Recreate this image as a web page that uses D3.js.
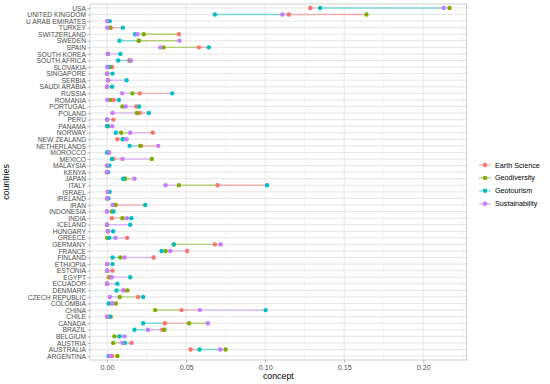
<!DOCTYPE html>
<html><head><meta charset="utf-8">
<script src="https://cdn.jsdelivr.net/npm/d3@7"></script>
<style>body{margin:0;background:#fff;} svg{display:block;font-family:"Liberation Sans",Arial,sans-serif;}</style>
</head><body>
<svg id="c" width="550" height="384"></svg>
<script>
const countries = ["USA","UNITED KINGDOM","U ARAB EMIRATES","TURKEY","SWITZERLAND","SWEDEN","SPAIN","SOUTH KOREA","SOUTH AFRICA","SLOVAKIA","SINGAPORE","SERBIA","SAUDI ARABIA","RUSSIA","ROMANIA","PORTUGAL","POLAND","PERU","PANAMA","NORWAY","NEW ZEALAND","NETHERLANDS","MOROCCO","MEXICO","MALAYSIA","KENYA","JAPAN","ITALY","ISRAEL","IRELAND","IRAN","INDONESIA","INDIA","ICELAND","HUNGARY","GREECE","GERMANY","FRANCE","FINLAND","ETHIOPIA","ESTONIA","EGYPT","ECUADOR","DENMARK","CZECH REPUBLIC","COLOMBIA","CHINA","CHILE","CANADA","BRAZIL","BELGIUM","AUSTRIA","AUSTRALIA","ARGENTINA"];
const earthScience  = [0.1285,0.115,0.001,0.0023,0.0454,0.0199,0.0581,0.0005,0.014,0.0032,0,0.0005,0,0.0207,0.0042,0.0184,0.0207,0.004,0,0.0289,0.0065,0.0215,0.001,0.0038,0,0,0.0112,0.0699,0.0012,0,0.0055,0,0.003,0,0.0005,0.0127,0.0682,0.0507,0.0294,0,0.0034,0.001,0,0.0108,0.0196,0.003,0.0471,0,0.0365,0.0349,0.0078,0.0154,0.0528,0.003];
const geodiversity  = [0.2167,0.1641,0.0005,0.0017,0.0232,0.0201,0.0357,0.0005,0.0145,0.0017,0,0.0006,0,0.016,0.0019,0.0097,0.0188,0,0.0006,0.0089,0.0099,0.021,0.001,0.0283,0,0,0.0114,0.0454,0.001,0,0.005,0.003,0.0097,0,0.0005,0,0.0423,0.037,0.0084,0,0,0.0022,0,0.0129,0.008,0.0055,0.0304,0.0023,0.0518,0.0363,0.0046,0.0038,0.075,0.0065];
const geotourism    = [0.1348,0.0682,0.0017,0.0099,0.0177,0.0078,0.0644,0.0084,0.007,0.001,0.0034,0.0123,0.0032,0.0412,0.0074,0.0203,0.0264,0,0,0.0055,0.0099,0.0142,0,0.003,0.0015,0.0006,0.0101,0.1012,0.0016,0.0008,0.0241,0.004,0.0154,0.0146,0.0038,0.0013,0.0421,0.0344,0.0034,0.0034,0,0.0146,0.0065,0.0059,0.0228,0.001,0.1003,0.0017,0.0228,0.0173,0.0078,0.0112,0.0585,0.001];
const sustainability= [0.213,0.1109,0,0,0.0192,0.0458,0.0336,0.0006,0.015,0,0,0.0006,0,0.0095,0,0.0118,0.0034,0,0.0032,0.0146,0.0123,0.0323,0.0013,0.0097,0,0,0.0173,0.037,0.0003,0,0.0034,0,0.0125,0,0.0006,0.0053,0.0718,0.0399,0.011,0,0,0.003,0,0.0101,0.0017,0.0034,0.0587,0,0.0638,0.0258,0.011,0.0097,0.0716,0.0017];
const seriesNames = ["Earth Science","Geodiversity","Geotourism","Sustainability"];
const seriesColors = ["#F8766D","#7CAE00","#00BFC4","#C77CFF"];
const xTicks = [0, 0.05, 0.10, 0.15, 0.20];

const series = [earthScience, geodiversity, geotourism, sustainability];
const svg = d3.select("#c");
const P = {l:90, r:466.7, t:4, b:360};
const maxV = d3.max(series.flat());
const x = d3.scaleLinear().domain([-maxV*0.05, maxV*1.05]).range([P.l, P.r]);
const y = d3.scalePoint().domain(countries).range([P.t, P.b]).padding(0.6);

// grid
const g = svg.append("g");
const minor = d3.range(0.025, 0.23, 0.05);
g.selectAll(".mn").data(minor).join("line").attr("x1",d=>x(d)).attr("x2",d=>x(d)).attr("y1",P.t).attr("y2",P.b).attr("stroke","#ededed").attr("stroke-width",0.5);
g.selectAll(".mj").data(xTicks).join("line").attr("x1",d=>x(d)).attr("x2",d=>x(d)).attr("y1",P.t).attr("y2",P.b).attr("stroke","#dedede").attr("stroke-width",0.8);
g.selectAll(".hy").data(countries).join("line").attr("x1",P.l).attr("x2",P.r).attr("y1",d=>y(d)).attr("y2",d=>y(d)).attr("stroke","#dedede").attr("stroke-width",0.8);

// axes
const xa = svg.append("g").attr("transform",`translate(0,${P.b})`).call(d3.axisBottom(x).tickValues(xTicks).tickFormat(d3.format(".2f")).tickSize(2.5).tickPadding(2));
const ya = svg.append("g").attr("transform",`translate(${P.l},0)`).call(d3.axisLeft(y).tickSize(2.5).tickPadding(1.5));
[xa,ya].forEach(a=>{a.select(".domain").remove();a.selectAll("line").attr("stroke","#b3b3b3");a.selectAll("text").attr("fill","#4d4d4d").attr("font-family","Liberation Sans, Arial, sans-serif");});
xa.selectAll("text").attr("font-size",7.2);
ya.selectAll("text").attr("font-size",6.7);
svg.append("rect").attr("x",P.l).attr("y",P.t).attr("width",P.r-P.l).attr("height",P.b-P.t).attr("fill","none").attr("stroke","#b3b3b3").attr("stroke-width",0.6);

// lines
const segs = [];
countries.forEach((c,i)=>{
  const pts = series.map((s,k)=>({v:s[i],k})).sort((a,b)=>a.v-b.v);
  for(let j=0;j<pts.length-1;j++) segs.push({c, a:pts[j].v, b:pts[j+1].v, k:pts[j].k});
});
svg.append("g").selectAll("line").data(segs).join("line")
  .attr("x1",d=>x(d.a)).attr("x2",d=>x(d.b)).attr("y1",d=>y(d.c)).attr("y2",d=>y(d.c))
  .attr("stroke",d=>seriesColors[d.k]).attr("stroke-opacity",0.5).attr("stroke-width",1.4);

// points
series.forEach((s,k)=>{
  svg.append("g").selectAll("circle").data(countries).join("circle")
    .attr("cx",(d,i)=>x(s[i])).attr("cy",d=>y(d)).attr("r",2.2).attr("fill",seriesColors[k]);
});

// axis titles
svg.append("text").attr("x",(P.l+P.r)/2).attr("y",379).attr("text-anchor","middle").attr("font-size",8.8).attr("fill","#000").text("concept");
svg.append("text").attr("transform",`translate(9,${(P.t+P.b)/2}) rotate(-90)`).attr("text-anchor","middle").attr("font-size",8.8).attr("fill","#000").text("countries");

// legend
const lg = svg.append("g");
seriesNames.forEach((n,k)=>{
  const yy = 165 + k*12.9;
  lg.append("line").attr("x1",479).attr("x2",491).attr("y1",yy).attr("y2",yy).attr("stroke",seriesColors[k]).attr("stroke-opacity",0.5).attr("stroke-width",1.4);
  lg.append("circle").attr("cx",485).attr("cy",yy).attr("r",2.2).attr("fill",seriesColors[k]);
  lg.append("text").attr("x",495).attr("y",yy).attr("dy","0.35em").attr("font-size",7.2).attr("fill","#000").text(n);
});
</script>
</body></html>
